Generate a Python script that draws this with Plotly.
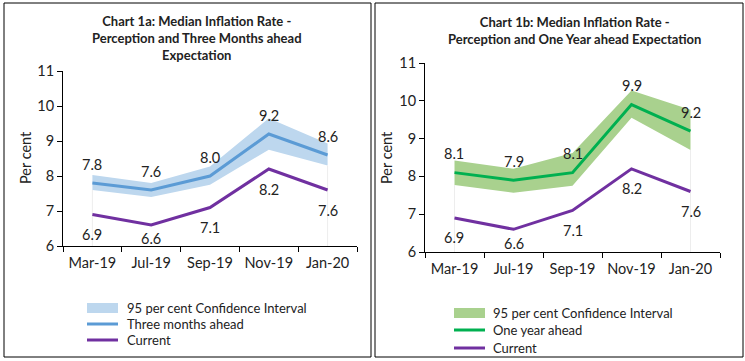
import plotly.graph_objects as go

months = ["Mar-19", "Jul-19", "Sep-19", "Nov-19", "Jan-20"]
current = [6.9, 6.6, 7.1, 8.2, 7.6]
three_month = [7.8, 7.6, 8.0, 9.2, 8.6]
three_lower = [7.6, 7.4, 7.75, 8.75, 8.3]
three_upper = [8.03, 7.8, 8.27, 9.65, 8.93]
one_year = [8.1, 7.9, 8.1, 9.9, 9.2]
one_lower = [7.77, 7.57, 7.75, 9.55, 8.7]
one_upper = [8.42, 8.2, 8.62, 10.27, 9.76]
legend_a = ["95 per cent Confidence Interval", "Three months ahead", "Current"]
legend_b = ["95 per cent Confidence Interval", "One year ahead", "Current"]

FONT = "Lato"
TXT = "#222"
BLUE = "#5B9BD5"
BLUE_BAND = "#BDD7EE"
GREEN = "#00B050"
GREEN_BAND = "#A9D18E"
PURPLE = "#7030A0"

W, H = 745, 361
def px(x): return x / W
def py(y): return 1 - y / H

YMIN, YMAX = 6, 11
fig = go.Figure()

def add_panel(xa, ya, lower, upper, mid, mid_color, band_color, px_per_unit):
    fig.add_trace(go.Scatter(x=months, y=lower, mode="lines", line=dict(width=0, color=band_color),
                             showlegend=False, hoverinfo="skip", xaxis=xa, yaxis=ya))
    fig.add_trace(go.Scatter(x=months, y=upper, mode="lines", line=dict(width=0, color=band_color),
                             fill="tonexty", fillcolor=band_color, showlegend=False, xaxis=xa, yaxis=ya))
    # faint edges of the (invisible) base area
    for i in (0, len(months) - 1):
        fig.add_trace(go.Scatter(x=[months[i], months[i]], y=[YMIN, lower[i]], mode="lines",
                                 line=dict(width=1, color="#EDEDED"), showlegend=False,
                                 hoverinfo="skip", xaxis=xa, yaxis=ya))
    fig.add_trace(go.Scatter(x=months, y=mid, mode="lines", line=dict(width=3, color=mid_color),
                             showlegend=False, xaxis=xa, yaxis=ya))
    fig.add_trace(go.Scatter(x=months, y=current, mode="lines", line=dict(width=3, color=PURPLE),
                             showlegend=False, xaxis=xa, yaxis=ya))
    axn = "" if xa == "x" else xa[1:]
    for m, v in zip(months, mid):
        fig.add_annotation(x=m, y=v, xref="x" + axn, yref="y" + axn, text=f"{v:.1f}", showarrow=False,
                           xanchor="center", yanchor="middle",
                           yshift=19, font=dict(family=FONT, size=14.5, color=TXT))
    for m, v in zip(months, current):
        dist = (v - YMIN) * px_per_unit
        shift = min(20, dist - 8)
        fig.add_annotation(x=m, y=v, xref="x" + axn, yref="y" + axn, text=f"{v:.1f}", showarrow=False,
                           xanchor="center", yanchor="middle",
                           yshift=-shift, font=dict(family=FONT, size=14.5, color=TXT))

add_panel("x", "y", three_lower, three_upper, three_month, BLUE, BLUE_BAND, (246 - 71) / 5)
add_panel("x2", "y2", one_lower, one_upper, one_year, GREEN, GREEN_BAND, (252 - 63) / 5)

axis_common = dict(showgrid=False, zeroline=False, showline=True, linecolor="black", linewidth=1,
                   ticks="outside", ticklen=5, tickcolor="black", automargin=False,
                   tickfont=dict(family=FONT, size=14.5, color=TXT))
xcat = dict(type="category", categoryorder="array", categoryarray=months, range=[-0.5, 4.5],
            tickson="boundaries", ticklabelstandoff=4)

fig.update_layout(
    width=W, height=H, margin=dict(l=0, r=0, t=0, b=0),
    paper_bgcolor="white", plot_bgcolor="white", showlegend=False,
    xaxis=dict(domain=[px(63), px(357)], anchor="y", **xcat, **axis_common),
    yaxis=dict(domain=[py(246), py(71)], anchor="x", range=[YMIN, YMAX], dtick=1, **axis_common),
    xaxis2=dict(domain=[px(425), px(720)], anchor="y2", **xcat, **axis_common),
    yaxis2=dict(domain=[py(252), py(63)], anchor="x2", range=[YMIN, YMAX], dtick=1, **axis_common),
)

# panel borders
fig.add_shape(type="rect", xref="paper", yref="paper", x0=px(4), x1=px(371), y0=py(357), y1=py(3),
              line=dict(color="black", width=1))
fig.add_shape(type="rect", xref="paper", yref="paper", x0=px(375), x1=px(743), y0=py(357), y1=py(3),
              line=dict(color="black", width=1))

# titles
fig.add_annotation(x=px(197), y=py(38.5), xref="paper", yref="paper", showarrow=False,
                   xanchor="center", yanchor="middle",
                   text="<b>Chart 1a: Median Inflation Rate -<br>Perception and Three Months ahead<br>Expectation</b>",
                   font=dict(family=FONT, size=13, color=TXT))
fig.add_annotation(x=px(574), y=py(31), xref="paper", yref="paper", showarrow=False,
                   xanchor="center", yanchor="middle",
                   text="<b>Chart 1b: Median Inflation Rate -<br>Perception and One Year ahead Expectation</b>",
                   font=dict(family=FONT, size=13, color=TXT))

# y-axis titles
for xc, yc in [(25, 158), (386, 158)]:
    fig.add_annotation(x=px(xc), y=py(yc), xref="paper", yref="paper", showarrow=False, textangle=-90,
                       xanchor="center", yanchor="middle",
                       text="Per cent", font=dict(family=FONT, size=14.5, color=TXT))

# manual legends
def legend(x_sym, x_txt, ys, labels, band_color, line_color):
    kinds = [("band", band_color), ("line", line_color), ("line", PURPLE)]
    for (kind, col), yc, lab in zip(kinds, ys, labels):
        if kind == "band":
            fig.add_shape(type="rect", xref="paper", yref="paper", x0=px(x_sym), x1=px(x_sym + 31),
                          y0=py(yc + 5), y1=py(yc - 5), fillcolor=col, line=dict(width=0))
        else:
            fig.add_shape(type="line", xref="paper", yref="paper", x0=px(x_sym), x1=px(x_sym + 31),
                          y0=py(yc), y1=py(yc), line=dict(color=col, width=3))
        fig.add_annotation(x=px(x_txt), y=py(yc), xref="paper", yref="paper", showarrow=False,
                           xanchor="left", yanchor="middle",
                           text=lab, font=dict(family=FONT, size=13, color=TXT))

legend(87, 125, [308, 324, 340], legend_a, BLUE_BAND, BLUE)
legend(454, 491, [313, 330, 348], legend_b, GREEN_BAND, GREEN)

fig.write_html("out.html", config={"displayModeBar": False},
               post_script="document.body.style.margin='0px';")
